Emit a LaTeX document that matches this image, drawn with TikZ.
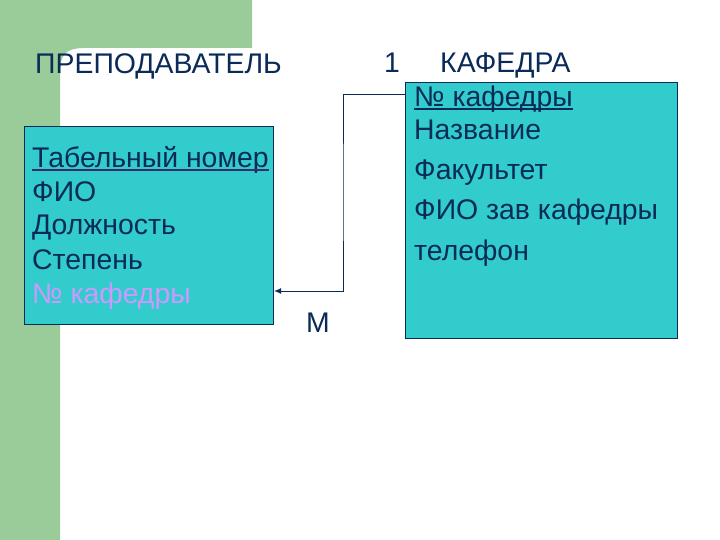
\documentclass[tikz,border=0pt]{standalone}
\usepackage{fontspec}
\setmainfont{Liberation Sans}
\usepackage{xcolor}
\usetikzlibrary{arrows.meta}

\definecolor{bggreen}{HTML}{99CC99}
\definecolor{boxcyan}{HTML}{33CCCC}
\definecolor{navy}{HTML}{0A2A58}
\definecolor{lilac}{HTML}{CC99FF}
\definecolor{ulpurple}{HTML}{3C2A6E}

\tikzset{
	entity/.style={draw=navy, line width=1.2pt, fill=boxcyan, rectangle, anchor=north west, inner sep=0pt},
	field/.style={anchor=base west, inner sep=0pt, text=navy, font=\fontsize{28.4}{34}\selectfont},
	link/.style={draw=navy, line width=0.8pt, -{Latex[length=7pt,width=6pt]}},
	uline/.style={line width=1.6pt}
}

\begin{document}
\begin{tikzpicture}[x=1pt, y=-1pt]
			\useasboundingbox (0,0) rectangle (720,540);
			\fill[white] (0,0) rectangle (720,540);
			\fill[bggreen] (0,0) -- (252,0) -- (252,48) -- (85,48)
				.. controls (66,48) and (60,54) .. (60,73) -- (60,540) -- (0,540) -- cycle;

			% entities
			\node[entity, minimum width=249pt, minimum height=198pt] (prep) at (24,126) {};
			\node[entity, minimum width=272pt, minimum height=256pt] (kaf) at (405,82) {};

			% titles and cardinalities
			\node[field] (prepname) at (35,74) {ПРЕПОДАВАТЕЛЬ};
			\node[field] (one) at (384,73) {1};
			\node[field] (kafname) at (440,73) {КАФЕДРА};
			\node[field] (many) at (306,332) {М};

			% fields of ПРЕПОДАВАТЕЛЬ
			\node[field] (tab) at (32,168) {Табельный номер};
			\node[field] (fio) at (32,202) {ФИО};
			\node[field] (dolzh) at (32,235) {Должность};
			\node[field] (step) at (32,269) {Степень};
			\node[field, text=lilac] (fknum) at (32,303) {№ кафедры};

			% fields of КАФЕДРА
			\node[field] (knum) at (414,107) {№ кафедры};
			\node[field] (nazv) at (414,140) {Название};
			\node[field] (fak) at (414,180) {Факультет};
			\node[field] (zav) at (414,220) {ФИО зав кафедры};
			\node[field] (tel) at (414,260) {телефон};

			% keys
			\draw[uline, ulpurple] ([yshift=-2pt]tab.base west) -- ([yshift=-2pt]tab.base east);
			\draw[uline, navy] ([yshift=-2pt]knum.base west) -- ([yshift=-2pt]knum.base east);

			\draw[link] (kaf.west |- 0,94) -| (343,192) |- (prep.east |- 0,291);
		\end{tikzpicture}
\end{document}
